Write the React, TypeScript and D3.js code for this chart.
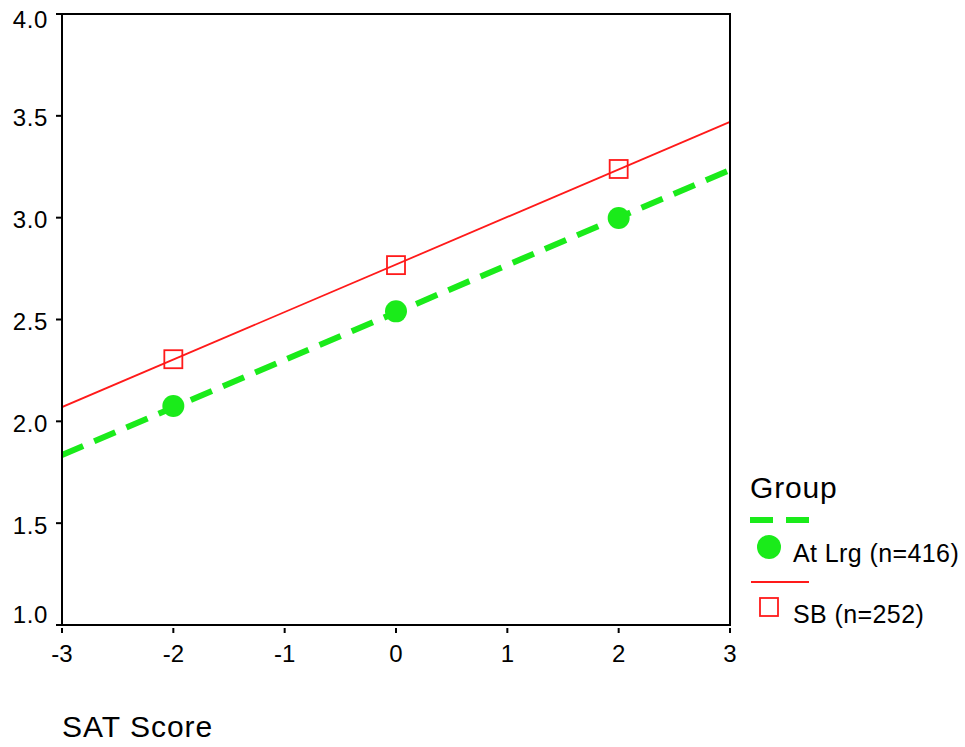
import { useEffect, useRef } from 'react'
import * as d3 from 'd3'

const xTicks = [-3, -2, -1, 0, 1, 2, 3]
const yTicks = [1.0, 1.5, 2.0, 2.5, 3.0, 3.5, 4.0]

// fitted lines: value at x=-3 and x=3
const lineX = [-3, 3]
const atLrgLine = [1.835, 3.234]
const sbLine = [2.07, 3.47]

// observed points
const pointX = [-2, 0, 2]
const atLrgPoints = [2.075, 2.54, 2.998]
const sbPoints = [2.305, 2.767, 3.239]

const legendLabels = ['At Lrg (n=416)', 'SB (n=252)']

const W = 965
const H = 747
const FONT = '"Liberation Sans", Arial, sans-serif'
const GREEN = '#1aeb1a'
const RED = '#ff1a1a'

export default function App() {
  const ref = useRef<SVGSVGElement>(null)

  useEffect(() => {
    if (!ref.current) return
    const svg = d3.select(ref.current)
    svg.selectAll('*').remove()

    const x = d3.scaleLinear().domain([-3, 3]).range([62, 730])
    const y = d3.scaleLinear().domain([1, 4]).range([625, 14])

    const line = d3.line<number>()
      .x((_, i) => x(lineX[i]))
      .y(d => y(d))

    // clip for lines
    svg.append('clipPath').attr('id', 'plotclip')
      .append('rect')
      .attr('x', x(-3)).attr('y', y(4))
      .attr('width', x(3) - x(-3) + 1).attr('height', y(1) - y(4))

    const plot = svg.append('g').attr('clip-path', 'url(#plotclip)')

    // SB line
    plot.append('path')
      .attr('d', line(sbLine) as string)
      .attr('fill', 'none').attr('stroke', RED).attr('stroke-width', 1.8)

    // At Lrg dashed line
    plot.append('path')
      .attr('d', line(atLrgLine) as string)
      .attr('fill', 'none').attr('stroke', GREEN).attr('stroke-width', 6)
      .attr('stroke-dasharray', '23,12')

    // At Lrg points
    plot.selectAll('circle.al')
      .data(atLrgPoints)
      .enter().append('circle')
      .attr('class', 'al')
      .attr('cx', (_, i) => x(pointX[i]))
      .attr('cy', d => y(d))
      .attr('r', 11)
      .attr('fill', GREEN)

    // SB points
    const sq = 18
    plot.selectAll('rect.sb')
      .data(sbPoints)
      .enter().append('rect')
      .attr('class', 'sb')
      .attr('x', (_, i) => x(pointX[i]) - sq / 2)
      .attr('y', d => y(d) - sq / 2)
      .attr('width', sq).attr('height', sq)
      .attr('fill', 'none').attr('stroke', RED).attr('stroke-width', 1.8)

    // frame
    svg.append('rect')
      .attr('x', x(-3)).attr('y', y(4))
      .attr('width', x(3) - x(-3)).attr('height', y(1) - y(4))
      .attr('fill', 'none').attr('stroke', '#000').attr('stroke-width', 2)

    // y ticks
    svg.selectAll('line.yt')
      .data(yTicks)
      .enter().append('line')
      .attr('x1', x(-3) - 6).attr('x2', x(-3))
      .attr('y1', d => y(d)).attr('y2', d => y(d))
      .attr('stroke', '#000').attr('stroke-width', 2)

    svg.selectAll('text.yl')
      .data(yTicks)
      .enter().append('text')
      .attr('x', 48)
      .attr('y', d => Math.min(615, Math.max(20, y(d) + 2)))
      .attr('dy', '0.35em')
      .attr('text-anchor', 'end')
      .attr('font-family', FONT).attr('font-size', 24)
      .attr('letter-spacing', 0.6)
      .attr('fill', '#000')
      .text(d => d.toFixed(1))

    // x ticks
    svg.selectAll('line.xt')
      .data(xTicks)
      .enter().append('line')
      .attr('x1', d => x(d)).attr('x2', d => x(d))
      .attr('y1', y(1) + 3).attr('y2', y(1) + 8)
      .attr('stroke', '#000').attr('stroke-width', 2)

    svg.selectAll('text.xl')
      .data(xTicks)
      .enter().append('text')
      .attr('x', d => x(d))
      .attr('y', 662)
      .attr('text-anchor', 'middle')
      .attr('font-family', FONT).attr('font-size', 24)
      .attr('fill', '#000')
      .text(d => String(d))

    // x axis title
    svg.append('text')
      .attr('x', 62).attr('y', 737)
      .attr('font-family', FONT).attr('font-size', 30)
      .attr('letter-spacing', 1)
      .attr('fill', '#000')
      .text('SAT Score')

    // legend
    const lg = svg.append('g')
    lg.append('text')
      .attr('x', 750).attr('y', 498)
      .attr('font-family', FONT).attr('font-size', 30)
      .attr('letter-spacing', 0.8)
      .attr('fill', '#000')
      .text('Group')

    lg.append('line')
      .attr('x1', 750).attr('x2', 809).attr('y1', 520).attr('y2', 520)
      .attr('stroke', GREEN).attr('stroke-width', 6)
      .attr('stroke-dasharray', '23,13')
    lg.append('circle')
      .attr('cx', 769).attr('cy', 547).attr('r', 12)
      .attr('fill', GREEN)

    lg.append('line')
      .attr('x1', 751).attr('x2', 809).attr('y1', 582).attr('y2', 582)
      .attr('stroke', RED).attr('stroke-width', 1.8)
    lg.append('rect')
      .attr('x', 769 - 9).attr('y', 607 - 9)
      .attr('width', 18).attr('height', 18)
      .attr('fill', 'none').attr('stroke', RED).attr('stroke-width', 1.8)

    lg.selectAll('text.li')
      .data(legendLabels)
      .enter().append('text')
      .attr('x', 793)
      .attr('y', (_, i) => 562 + i * 61)
      .attr('font-family', FONT).attr('font-size', 25)
      .attr('letter-spacing', 0.4)
      .attr('fill', '#000')
      .text(d => d)
  }, [])

  return (
    <svg
      ref={ref}
      width={W}
      height={H}
      style={{ position: 'absolute', left: 0, top: 0, background: '#fff' }}
    />
  )
}
